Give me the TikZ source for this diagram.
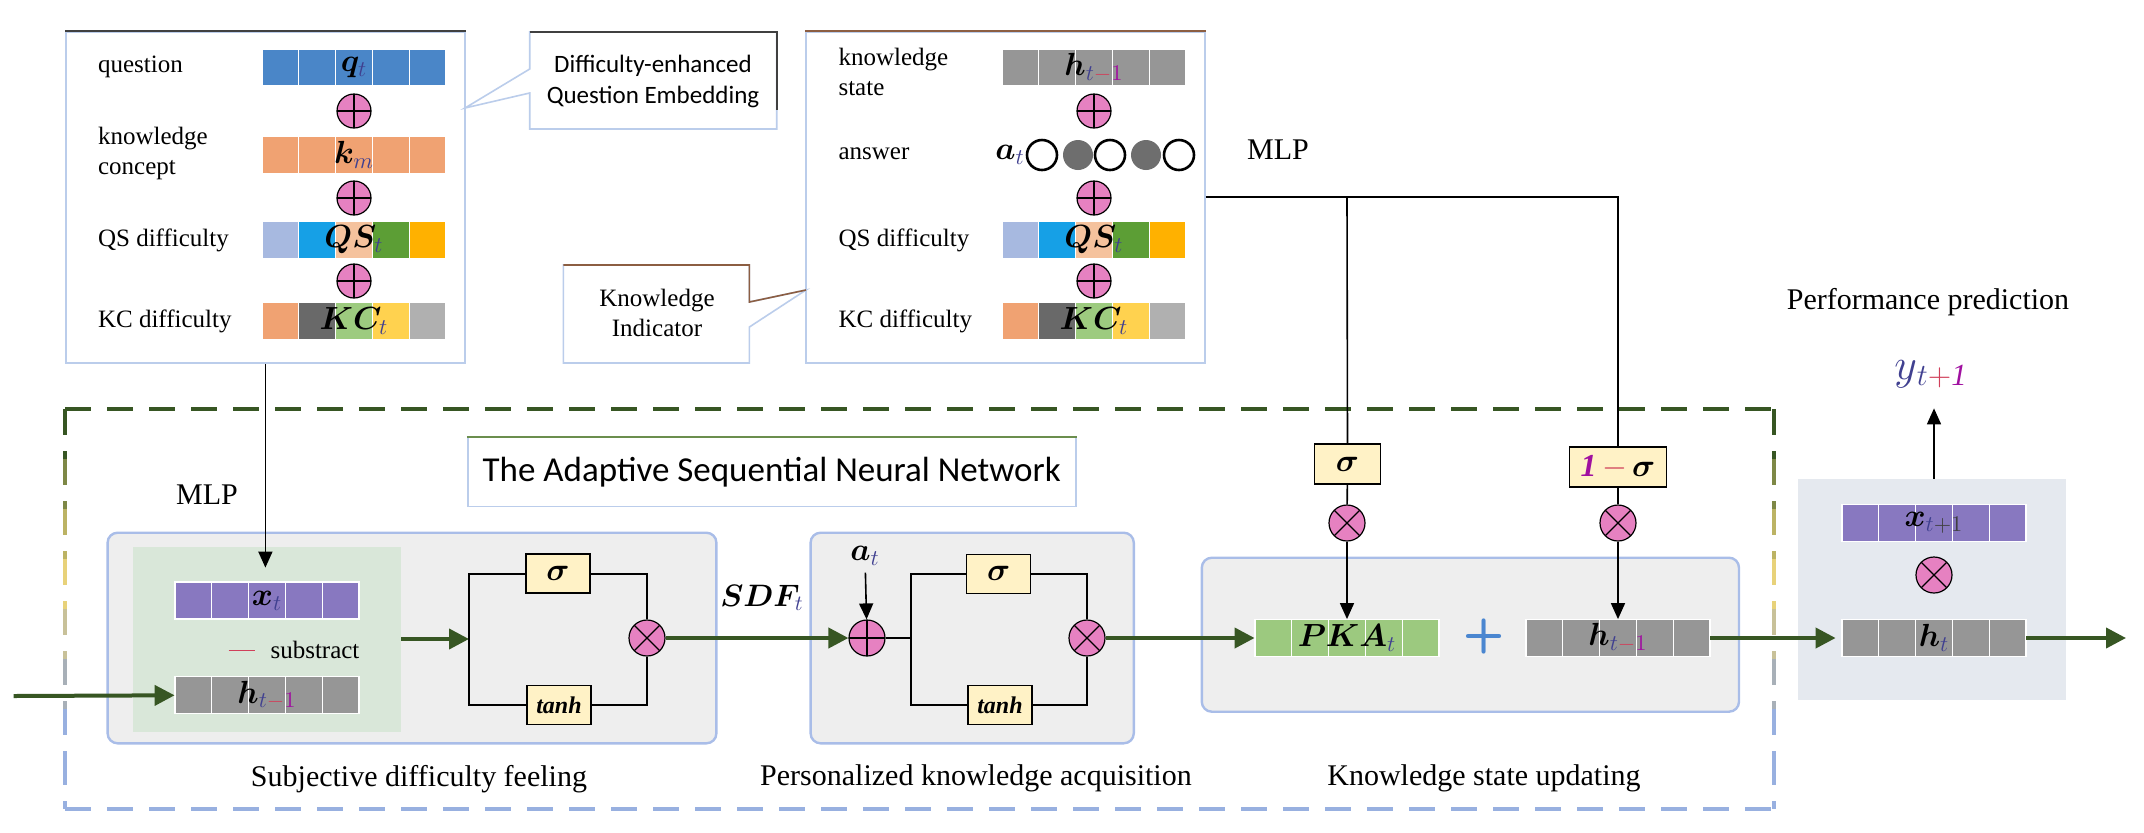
\RequirePackage{fix-cm}
\documentclass[tikz,border=0pt]{standalone}
\usepackage{amsmath,bm}
\usepackage{fontspec}
\setmainfont{Liberation Serif}
\newfontfamily\calfont{Carlito}
\usetikzlibrary{arrows.meta,calc}

\definecolor{qblue}{HTML}{4A86C8}
\definecolor{korange}{HTML}{F0A272}
\definecolor{qsA}{HTML}{A7B9E0}
\definecolor{qsB}{HTML}{16A0E6}
\definecolor{qsC}{HTML}{F5C29D}
\definecolor{qsD}{HTML}{5C9E35}
\definecolor{qsE}{HTML}{FFB100}
\definecolor{kcB}{HTML}{696969}
\definecolor{kcC}{HTML}{9DCB7F}
\definecolor{kcD}{HTML}{FFD24F}
\definecolor{kcE}{HTML}{B0B0B0}
\definecolor{hgray}{HTML}{969696}
\definecolor{xpurple}{HTML}{8878C0}
\definecolor{pkagreen}{HTML}{9CC97F}
\definecolor{oppink}{HTML}{E681C1}
\definecolor{gateyellow}{HTML}{FFF2C6}
\definecolor{dgreen}{HTML}{375623}
\definecolor{panelgray}{HTML}{EEEEEE}
\definecolor{panelblue}{HTML}{A9BDE8}
\definecolor{sdfgreen}{HTML}{D9E7D9}
\definecolor{predgray}{HTML}{E5E9EF}
\definecolor{boxblue}{HTML}{BBCDEB}
\definecolor{boxdark}{HTML}{404040}
\definecolor{boxbrown}{HTML}{8C5E42}
\definecolor{subblue}{HTML}{404090}
\definecolor{subred}{HTML}{D0405A}
\definecolor{subpurple}{HTML}{A010A0}
\definecolor{ansgray}{HTML}{6E6E6E}
\definecolor{plusblue}{HTML}{4A86D0}
\definecolor{sideyellow}{HTML}{E8D27A}
\definecolor{dashblue}{HTML}{98B0E0}
\definecolor{dashgray}{HTML}{A8B0B8}
\definecolor{titlegreen}{HTML}{6B8E4E}

% five-cell embedding bar: name, centre, cell colours, label
\newcommand{\cellbar}[4]{%
  \foreach \c [count=\i] in {#3}
    \filldraw [fill=\c, draw=white, line width=0.6pt] ($(#2)+(\i*36.8-128.8,-18.5)$) rectangle +(36.8,37);
  \node [inner sep=0, minimum width=92pt, minimum height=18.5pt, font=\fontsize{16}{18}\selectfont] (#1) at (#2) {#4};
}
\newcommand{\tsub}{\textcolor{subblue}{t}}
\newcommand{\tmone}{\textcolor{subblue}{t}\textcolor{subred}{-}\textcolor{subpurple}{1}}

\begin{document}
\begin{tikzpicture}[x=0.5pt, y=-0.5pt,
	txt/.style={font=\fontsize{15}{17}\selectfont},
	lbl/.style={font=\fontsize{12.5}{15}\selectfont, anchor=west, align=left},
	gatebox/.style={draw, fill=gateyellow, line width=0.8pt, minimum width=32pt, minimum height=19.5pt, inner sep=1pt, font=\fontsize{16}{18}\selectfont},
	addop/.style={circle, draw, line width=0.6pt, fill=oppink, minimum size=17pt, inner sep=0,
		path picture={\draw [line width=0.6pt] (path picture bounding box.north) -- (path picture bounding box.south) (path picture bounding box.west) -- (path picture bounding box.east);}},
	mulop/.style={circle, draw, line width=0.6pt, fill=oppink, minimum size=18pt, inner sep=0,
		path picture={\draw [line width=0.6pt] (path picture bounding box.north west) -- (path picture bounding box.south east) (path picture bounding box.north east) -- (path picture bounding box.south west);}},
	ansopen/.style={circle, draw, line width=1.3pt, fill=white, minimum size=15pt, inner sep=0},
	ansfull/.style={circle, fill=ansgray, minimum size=15pt, inner sep=0},
	flow/.style={draw=dgreen, line width=2pt, -{Triangle[length=10pt, width=10pt]}},
	feed/.style={draw=black, line width=0.8pt, -{Triangle[length=8pt, width=7pt]}},
	wire/.style={draw=black, line width=0.8pt},
	panel/.style={fill=panelgray, draw=panelblue, line width=1.2pt, rounded corners=5pt},
	dashbox/.style={line width=2pt, dash pattern=on 13pt off 8pt}]

	\useasboundingbox (0,0) rectangle (2144,832);

	% adaptive sequential network frame
	\draw [dashbox, dgreen] (65,409) -- (1774,409);
	\draw [dashbox, dashblue] (65,809) -- (1774,809);
	\foreach \col [count=\i from 0] in {dgreen, dgreen!60!sideyellow, dgreen!25!sideyellow, sideyellow, sideyellow!50!dashgray, dashgray, dashblue, dashblue}
		\draw [dashbox, \col] (65,409+\i*50) -- (65,459+\i*50) (1774,409+\i*50) -- (1774,459+\i*50);
	\node [draw=boxblue, line width=0.8pt, fill=white, minimum width=304pt, minimum height=34.5pt, font=\calfont\fontsize{17.5}{20}\selectfont] (title) at (771.7,472) {The Adaptive Sequential Neural Network};
	\draw [titlegreen, line width=0.8pt] (title.north west) -- (title.north east);

	% question embedding box
	\node [draw=boxblue, line width=0.8pt, fill=white, minimum width=199.6pt, minimum height=165.5pt] (qemb) at (265.4,197.5) {};
	\draw [boxdark, line width=0.8pt] (qemb.north west) -- (qemb.north east);
	\node [lbl] (lq) at (91,67) {question};
	\node [lbl] (lk) at (91,153) {knowledge\\concept};
	\node [lbl] (lqs) at (91,240) {QS difficulty};
	\node [lbl] (lkc) at (91,321) {KC difficulty};
	\cellbar{qbar}{354,67.5}{qblue,qblue,qblue,qblue,qblue}{$\bm{q}_{\tsub}$}
	\cellbar{kbar}{354,155}{korange,korange,korange,korange,korange}{$\bm{k}_{\textcolor{subblue}{m}}$}
	\cellbar{qsbar}{354,240}{qsA,qsB,qsC,qsD,qsE}{$\bm{QS}_{\tsub}$}
	\cellbar{kcbar}{354,321}{korange,kcB,kcC,kcD,kcE}{$\bm{KC}_{\tsub}$}
	\node [addop] (qadd1) at (354,111) {};
	\node [addop] (qadd2) at (354,198) {};
	\node [addop] (qadd3) at (354,281) {};

	% question embedding callout
	\draw [boxblue, line width=0.8pt, fill=white] (529.7,129) -- (529.7,93) -- (465,108) -- (529.7,69) -- (529.7,32) -- (776.7,32) -- (776.7,129) -- cycle;
	\draw [boxdark, line width=0.8pt] (529.7,32) -- (776.7,32) -- (776.7,110);
	\node [align=center, font=\calfont\fontsize{12.5}{15.5}\selectfont] (qcall) at (653,81) {Difficulty-enhanced\\Question Embedding};

	% knowledge indicator box
	\node [draw=boxblue, line width=0.8pt, fill=white, minimum width=199.5pt, minimum height=165.5pt] (kind) at (1005.5,197.5) {};
	\draw [boxbrown, line width=0.8pt] (kind.north west) -- (kind.north east);
	\node [lbl] (lh) at (831.5,72) {knowledge\\state};
	\node [lbl] (la) at (831.5,154) {answer};
	\node [lbl] (lqs2) at (831.5,240) {QS difficulty};
	\node [lbl] (lkc2) at (831.5,321) {KC difficulty};
	\cellbar{hbar}{1094,67.5}{hgray,hgray,hgray,hgray,hgray}{$\bm{h}_{\tmone}$}
	\cellbar{qsbar2}{1094,240}{qsA,qsB,qsC,qsD,qsE}{$\bm{QS}_{\tsub}$}
	\cellbar{kcbar2}{1094,321}{korange,kcB,kcC,kcD,kcE}{$\bm{KC}_{\tsub}$}
	\node [font=\fontsize{16}{18}\selectfont] (at1) at (1010,155) {$\bm{a}_{\tsub}$};
	\node [ansopen] (ans1) at (1042,155) {};
	\node [ansfull] (ans2) at (1078,155) {};
	\node [ansopen] (ans3) at (1110,155) {};
	\node [ansfull] (ans4) at (1146,155) {};
	\node [ansopen] (ans5) at (1179,155) {};
	\node [addop] (kadd1) at (1094,111) {};
	\node [addop] (kadd2) at (1094,198) {};
	\node [addop] (kadd3) at (1094,281) {};

	% knowledge indicator callout
	\draw [boxblue, line width=0.8pt, fill=white] (749.4,327) -- (806,290) -- (749.4,302) -- (749.4,265) -- (563.4,265) -- (563.4,363) -- (749.4,363) -- cycle;
	\draw [boxbrown, line width=0.8pt] (563.4,265) -- (749.4,265) -- (749.4,302) -- (806,290);
	\node [align=center, font=\fontsize{12.5}{15}\selectfont] (kcall) at (657,313) {Knowledge\\Indicator};

	% subjective difficulty feeling
	\node [panel, minimum width=304.4pt, minimum height=105.3pt] (sdfpanel) at (412,638) {};
	\node [fill=sdfgreen, minimum width=133.8pt, minimum height=92.5pt] (sdfarea) at (267.1,639.8) {};
	\node [txt] (mlpA) at (207,495) {MLP};
	\cellbar{xbar}{267,600.5}{xpurple,xpurple,xpurple,xpurple,xpurple}{$\bm{x}_{\tsub}$}
	\cellbar{hin}{267,695.3}{hgray,hgray,hgray,hgray,hgray}{$\bm{h}_{\tmone}$}
	\node [font=\fontsize{12.5}{15}\selectfont] (subtr) at (294,650) {\textcolor{subred}{\rule[0.3em]{13pt}{0.6pt}}\hspace{8pt}substract};
	\node [gatebox] (sg1) at (558,573.7) {$\bm{\sigma}$};
	\node [gatebox, font=\bfseries\itshape\fontsize{12}{14}\selectfont] (tg1) at (559,705) {tanh};
	\node [mulop] (mul1) at (647,638) {};
	\coordinate (jl1) at (469,639);
	\node [txt] (sdflbl) at (419,779) {Subjective difficulty feeling};

	% personalized knowledge acquisition
	\node [panel, minimum width=161.6pt, minimum height=105.3pt] (pkapanel) at (972.2,638) {};
	\node [font=\fontsize{16}{18}\selectfont] (at2) at (865,556) {$\bm{a}_{\tsub}$};
	\node [addop, minimum size=18pt] (add2) at (867,638) {};
	\node [gatebox] (sg2) at (998.6,573.8) {$\bm{\sigma}$};
	\node [gatebox, font=\bfseries\itshape\fontsize{12}{14}\selectfont] (tg2) at (1000,705) {tanh};
	\node [mulop] (mul2) at (1087,638) {};
	\coordinate (jl2) at (911,638);
	\node [font=\fontsize{15.5}{17}\selectfont] (sdf) at (762,598) {$\bm{SDF}_{\tsub}$};
	\node [txt] (pkalbl) at (976,778) {Personalized knowledge acquisition};

	% knowledge state updating
	\node [panel, minimum width=268.6pt, minimum height=77pt] (kspanel) at (1470.4,634.7) {};
	\cellbar{pka}{1347,638}{pkagreen,pkagreen,pkagreen,pkagreen,pkagreen}{$\bm{PKA}_{\tsub}$}
	\cellbar{hprev}{1618,638}{hgray,hgray,hgray,hgray,hgray}{$\bm{h}_{\tmone}$}
	\node [text=plusblue, font=\sffamily\bfseries\fontsize{24}{24}\selectfont] (plusop) at (1484.5,636) {+};
	\node [txt] (mlpB) at (1278,150) {MLP};
	\node [gatebox, minimum width=33pt, minimum height=20pt] (sgate) at (1347.5,464) {$\bm{\sigma}$};
	\node [gatebox, minimum width=48.5pt, minimum height=20pt] (omgate) at (1618,467) {\textcolor{subpurple}{\textbf{\textit{1}}}\,$\textcolor{subred}{-}\,\bm{\sigma}$};
	\node [mulop] (mulA) at (1347,523) {};
	\node [mulop] (mulB) at (1618,523) {};
	\coordinate (mlpsplit) at (1347,197);
	\node [txt] (kslbl) at (1484,778) {Knowledge state updating};

	% performance prediction
	\node [fill=predgray, minimum width=134pt, minimum height=110.5pt] (pred) at (1931.6,589.5) {};
	\cellbar{xnext}{1934,523}{xpurple,xpurple,xpurple,xpurple,xpurple}{$\bm{x}_{\tsub\textcolor{boxdark}{+1}}$}
	\cellbar{ht}{1934,638}{hgray,hgray,hgray,hgray,hgray}{$\bm{h}_{\tsub}$}
	\node [mulop] (mulP) at (1934,575) {};
	\node [font=\fontsize{22}{24}\selectfont, inner sep=0] (yout) at (1931,374) {$\textcolor{subblue}{y}_{\tsub\textcolor{subred}{+}\textcolor{subpurple}{\mathit{1}}}$};
	\node [txt] (predlbl) at (1928,302) {Performance prediction};
	\coordinate (inbeg) at (13.6,696);
	\coordinate (outend) at (2126,638);

	% connectors
	\draw [feed, shorten >=7pt] (qemb.south) -- (qemb.south |- xbar.north);
	\draw [flow] (inbeg) -- (hin.west);
	\draw [flow] (sdfarea.east |- jl1) -- (jl1);
	\draw [wire] (sg1.west) -| (jl1) |- (tg1.west);
	\draw [wire] (sg1.east) -| (mul1.north);
	\draw [wire] (tg1.east) -| (mul1.south);
	\draw [flow] (mul1) -- (add2);
	\draw [feed] (at2) -- (add2);
	\draw [wire] (add2) -- (jl2);
	\draw [wire] (sg2.west) -| (jl2) |- (tg2.west);
	\draw [wire] (sg2.east) -| (mul2.north);
	\draw [wire] (tg2.east) -| (mul2.south);
	\draw [flow] (mul2) -- (pka.west);
	\draw [wire] (kind.east |- mlpsplit) -| (omgate.north);
	\draw [wire] (mlpsplit) -- (sgate.north);
	\draw [wire] (sgate) -- (mulA);
	\draw [wire] (omgate) -- (mulB);
	\draw [feed] (mulA) -- (pka.north);
	\draw [feed] (mulB) -- (hprev.north);
	\draw [flow, shorten >=3pt] (hprev.east) -- (ht.west);
	\draw [flow] (ht.east) -- (outend);
	\draw [feed, shorten >=10pt] (pred.north -| ht.north) -- (yout.south -| ht.north);

\end{tikzpicture}
\end{document}
